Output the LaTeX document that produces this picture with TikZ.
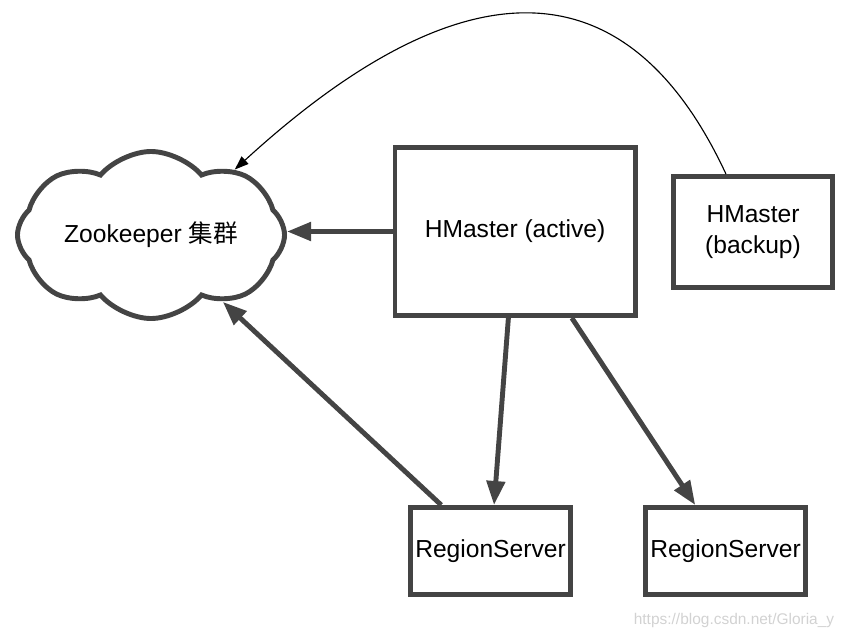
\documentclass[tikz,border=0pt]{standalone}
\usepackage{fontspec}
\setmainfont{Liberation Sans}
\newfontfamily\cjk{Noto Sans CJK SC}
\usepackage[HTML]{xcolor}
\usepackage{tikz}
\usetikzlibrary{positioning, arrows.meta, shapes.symbols}
\definecolor{edgegray}{HTML}{444444}

\begin{document}
\begin{tikzpicture}[x=0.025cm, y=-0.025cm,
  box/.style={draw=edgegray, line width=3.5pt, fill=white, align=center, font=\fontsize{17.5}{22}\selectfont},
  thickarrow/.style={draw=edgegray, line width=3.5pt, -{Triangle[length=0.6cm, width=0.45cm]}}]
\useasboundingbox (0,0) rectangle (846,638);

\node[box, cloud, cloud puffs=8, cloud puff arc=100, cloud ignores aspect, minimum width=6.675cm, minimum height=4.175cm] (zk) at (151,235) {Zookeeper {\cjk 集群}};
\node[box, minimum width=6cm, minimum height=4.2cm] (hm) at (515,231.5) {HMaster (active)};
\node[box, minimum width=3.975cm, minimum height=2.775cm] (bk) at (753,232) {HMaster\\(backup)};
\node[box, minimum width=4cm, minimum height=2.175cm] (rs1) at (490.5,551) {RegionServer};
\node[box, minimum width=4cm, minimum height=2.175cm] (rs2) at (725.5,551) {RegionServer};

\draw[thickarrow] (hm.west) -- (hm.west -| zk.east);
\draw[thickarrow] (hm) -- (rs1);
\draw[thickarrow] (hm) -- (rs2);
\draw[thickarrow] (rs1) -- (zk);
\draw[line width=0.8pt, -{Triangle[length=0.35cm, width=0.25cm]}] (bk.115) .. controls (610,-75) and (420,0) .. (zk.38);

% watermark
\node[text=gray!35, font=\fontsize{11}{13}\selectfont] (wm) at (734,620) {https://blog.csdn.net/Gloria\_y};
\end{tikzpicture}
\end{document}
